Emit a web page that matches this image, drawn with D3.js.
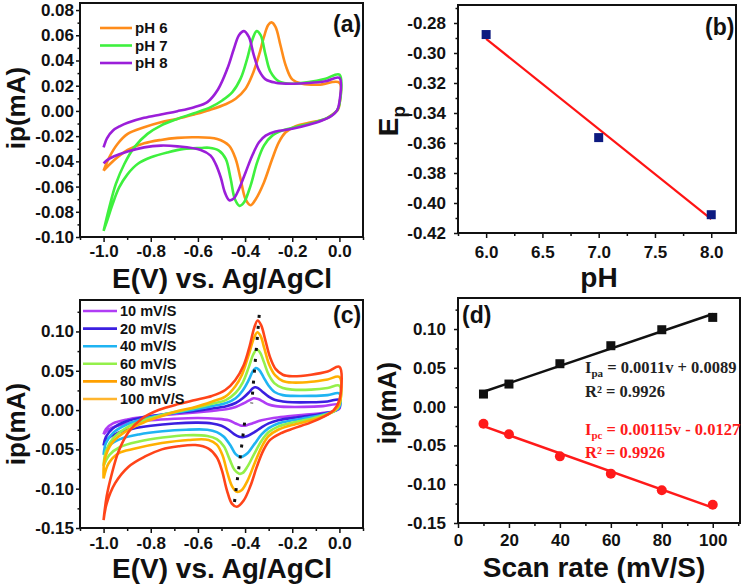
<!DOCTYPE html>
<html>
<head>
<meta charset="utf-8">
<script src="https://cdnjs.cloudflare.com/ajax/libs/d3/7.8.5/d3.min.js"></script>
<style>
  body { margin: 0; background: #fff; }
  svg text { font-family: "Liberation Sans", Arial, sans-serif; font-weight: bold; fill: #111; }
</style>
</head>
<body>
<svg id="chart" width="745" height="584"></svg>
<script>
// ---- panel (a): CV at different pH, [E (V), i (mA)] ----
var phLabels = ['pH 6', 'pH 7', 'pH 8'];
var cvPH6 = [[-1.0,-0.0474],[-0.976,-0.0368],[-0.941,-0.0262],[-0.898,-0.0182],[-0.828,-0.0129],[-0.757,-0.0089],
  [-0.687,-0.0063],[-0.616,-0.0028],[-0.55,0.0008],[-0.48,0.0055],[-0.44,0.0097],[-0.398,0.0176],[-0.37,0.0282],
  [-0.341,0.0442],[-0.32,0.0587],[-0.302,0.0681],[-0.288,0.0702],[-0.271,0.0667],[-0.25,0.0521],[-0.228,0.0362],
  [-0.2,0.025],[-0.158,0.0216],[-0.088,0.0208],[0.0,0.0224],[0.0,0.005],[-0.006,0.001],[-0.017,-0.001],
  [-0.059,-0.0063],[-0.13,-0.0094],[-0.186,-0.0121],[-0.228,-0.0169],[-0.257,-0.0249],[-0.285,-0.0381],
  [-0.32,-0.0567],[-0.355,-0.07],[-0.377,-0.0748],[-0.398,-0.07],[-0.419,-0.054],[-0.44,-0.0381],[-0.468,-0.0275],
  [-0.518,-0.0222],[-0.616,-0.0209],[-0.687,-0.0214],[-0.757,-0.023],[-0.828,-0.0257],[-0.898,-0.031],
  [-0.941,-0.0368],[-0.976,-0.0427],[-1.0,-0.0474]];
var cvPH7 = [[-1.0,-0.0952],[-0.976,-0.0767],[-0.948,-0.058],[-0.912,-0.0421],[-0.87,-0.0289],[-0.814,-0.0182],
  [-0.757,-0.0116],[-0.687,-0.0063],[-0.616,-0.0018],[-0.546,0.003],[-0.497,0.0083],[-0.454,0.0149],[-0.419,0.0256],
  [-0.391,0.0415],[-0.37,0.0561],[-0.351,0.0633],[-0.334,0.0601],[-0.313,0.0442],[-0.292,0.0309],[-0.257,0.0235],
  [-0.2,0.0216],[-0.13,0.0229],[-0.059,0.0256],[0.0,0.0288],[0.0,0.005],[-0.01,0.0004],[-0.045,-0.005],
  [-0.102,-0.0089],[-0.172,-0.0121],[-0.243,-0.0156],[-0.285,-0.0196],[-0.32,-0.0275],[-0.349,-0.0408],
  [-0.377,-0.0594],[-0.405,-0.0727],[-0.423,-0.0753],[-0.443,-0.07],[-0.461,-0.054],[-0.482,-0.0381],
  [-0.511,-0.0315],[-0.553,-0.0292],[-0.588,-0.0294],[-0.659,-0.0301],[-0.729,-0.0329],[-0.799,-0.0368],
  [-0.856,-0.0421],[-0.898,-0.0501],[-0.934,-0.0607],[-0.962,-0.074],[-0.983,-0.0859],[-1.0,-0.0952]];
var cvPH8 = [[-1.0,-0.029],[-0.985,-0.0215],[-0.96,-0.0155],[-0.93,-0.012],[-0.898,-0.0094],[-0.828,-0.0055],
  [-0.757,-0.0028],[-0.687,-0.0002],[-0.616,0.003],[-0.56,0.007],[-0.515,0.017],[-0.475,0.0336],[-0.447,0.0495],
  [-0.426,0.0601],[-0.405,0.0633],[-0.384,0.0587],[-0.363,0.0442],[-0.341,0.0322],[-0.313,0.025],[-0.271,0.0224],
  [-0.2,0.0216],[-0.13,0.0221],[-0.059,0.0235],[0.0,0.0262],[0.0,0.007],[-0.01,0.0004],[-0.031,-0.0036],
  [-0.074,-0.0076],[-0.13,-0.011],[-0.2,-0.0142],[-0.271,-0.0164],[-0.313,-0.0196],[-0.341,-0.0249],
  [-0.37,-0.0355],[-0.398,-0.0488],[-0.426,-0.062],[-0.448,-0.0695],[-0.467,-0.0708],[-0.485,-0.065],
  [-0.503,-0.0528],[-0.525,-0.042],[-0.546,-0.0355],[-0.588,-0.031],[-0.687,-0.0281],[-0.757,-0.0275],
  [-0.828,-0.0289],[-0.898,-0.0321],[-0.955,-0.036],[-0.985,-0.039],[-1.0,-0.0416]];

// ---- panel (b): peak potential vs pH ----
var phValues = [6, 7, 8];
var epValues = [-0.2877, -0.3564, -0.4078];

// ---- panel (c): CV at different scan rates ----
var scanLabels = ['10 mV/S', '20 mV/S', '40 mV/S', '60 mV/S', '80 mV/S', '100 mV/S'];
var cv10 = [[-1,-0.031],[-0.99,-0.024],[-0.96,-0.017],[-0.9,-0.012],[-0.83,-0.009],[-0.76,-0.007],[-0.69,-0.005],
  [-0.61,-0.003],[-0.54,-0.001],[-0.48,0.001],[-0.44,0.004],[-0.41,0.008],[-0.385,0.012],[-0.364,0.015],
  [-0.345,0.014],[-0.325,0.011],[-0.3,0.007],[-0.27,0.005],[-0.22,0.004],[-0.15,0.004],[-0.07,0.005],[0,0.007],
  [0,0.002],[-0.03,-0.002],[-0.08,-0.004],[-0.15,-0.006],[-0.22,-0.008],[-0.28,-0.01],[-0.33,-0.013],
  [-0.37,-0.017],[-0.39,-0.019],[-0.405,-0.02],[-0.42,-0.0195],[-0.44,-0.017],[-0.47,-0.013],[-0.52,-0.011],
  [-0.6,-0.01],[-0.7,-0.011],[-0.8,-0.013],[-0.88,-0.016],[-0.94,-0.02],[-0.98,-0.025],[-1,-0.031]];
var cv20 = [[-1,-0.045],[-0.99,-0.034],[-0.96,-0.023],[-0.9,-0.014],[-0.83,-0.009],[-0.76,-0.006],[-0.69,-0.0035],
  [-0.61,-0.001],[-0.54,0.002],[-0.48,0.005],[-0.44,0.009],[-0.41,0.015],[-0.385,0.022],[-0.37,0.027],
  [-0.358,0.029],[-0.345,0.028],[-0.325,0.023],[-0.3,0.017],[-0.275,0.013],[-0.24,0.011],[-0.2,0.01],
  [-0.12,0.01],[-0.05,0.011],[0,0.013],[0,0.003],[-0.02,-0.001],[-0.06,-0.004],[-0.12,-0.007],[-0.2,-0.01],
  [-0.26,-0.013],[-0.3,-0.017],[-0.33,-0.022],[-0.36,-0.028],[-0.39,-0.033],[-0.41,-0.0345],[-0.425,-0.034],
  [-0.445,-0.031],[-0.47,-0.025],[-0.5,-0.02],[-0.54,-0.017],[-0.6,-0.016],[-0.7,-0.017],[-0.8,-0.02],
  [-0.88,-0.024],[-0.94,-0.029],[-0.98,-0.036],[-1,-0.045]];
var cv40 = [[-1,-0.057],[-0.99,-0.042],[-0.96,-0.029],[-0.9,-0.018],[-0.83,-0.011],[-0.76,-0.0065],[-0.69,-0.003],
  [-0.61,0.001],[-0.54,0.005],[-0.48,0.009],[-0.44,0.015],[-0.41,0.025],[-0.385,0.038],[-0.368,0.049],
  [-0.354,0.0535],[-0.34,0.051],[-0.322,0.042],[-0.3,0.031],[-0.275,0.023],[-0.24,0.019],[-0.2,0.018],
  [-0.12,0.018],[-0.05,0.019],[0,0.021],[0,0.004],[-0.02,-0.001],[-0.06,-0.005],[-0.12,-0.009],[-0.2,-0.013],
  [-0.26,-0.017],[-0.3,-0.023],[-0.33,-0.031],[-0.36,-0.043],[-0.39,-0.055],[-0.41,-0.059],[-0.422,-0.0595],
  [-0.44,-0.056],[-0.46,-0.046],[-0.49,-0.034],[-0.52,-0.028],[-0.56,-0.025],[-0.65,-0.025],[-0.75,-0.027],
  [-0.85,-0.031],[-0.93,-0.037],[-0.975,-0.045],[-1,-0.057]];
var cv60 = [[-1,-0.071],[-0.99,-0.052],[-0.96,-0.036],[-0.9,-0.022],[-0.83,-0.013],[-0.76,-0.007],[-0.69,-0.002],
  [-0.61,0.003],[-0.54,0.008],[-0.48,0.013],[-0.44,0.022],[-0.41,0.035],[-0.385,0.054],[-0.365,0.071],
  [-0.35,0.077],[-0.336,0.073],[-0.32,0.061],[-0.3,0.045],[-0.275,0.034],[-0.24,0.028],[-0.2,0.026],
  [-0.12,0.026],[-0.05,0.028],[0,0.031],[0,0.006],[-0.02,-0.001],[-0.06,-0.006],[-0.12,-0.011],[-0.2,-0.016],
  [-0.26,-0.021],[-0.3,-0.028],[-0.33,-0.039],[-0.36,-0.055],[-0.39,-0.072],[-0.41,-0.08],[-0.425,-0.081],
  [-0.445,-0.076],[-0.465,-0.063],[-0.49,-0.046],[-0.52,-0.037],[-0.56,-0.033],[-0.65,-0.032],[-0.75,-0.035],
  [-0.85,-0.04],[-0.93,-0.047],[-0.975,-0.057],[-1,-0.071]];
var cv80 = [[-1,-0.087],[-0.996,-0.064],[-0.965,-0.042],[-0.894,-0.025],[-0.824,-0.015],[-0.753,-0.0076],
  [-0.682,-0.001],[-0.611,0.004],[-0.541,0.0107],[-0.484,0.017],[-0.442,0.03],[-0.413,0.045],[-0.385,0.07],
  [-0.362,0.092],[-0.348,0.099],[-0.334,0.094],[-0.318,0.078],[-0.298,0.058],[-0.272,0.044],[-0.24,0.037],
  [-0.2,0.035],[-0.12,0.036],[-0.05,0.039],[0,0.042],[0,0.008],[-0.02,0.0],[-0.06,-0.007],[-0.12,-0.013],
  [-0.2,-0.019],[-0.26,-0.025],[-0.3,-0.033],[-0.33,-0.047],[-0.36,-0.068],[-0.39,-0.09],[-0.415,-0.102],
  [-0.435,-0.104],[-0.455,-0.097],[-0.475,-0.08],[-0.495,-0.058],[-0.52,-0.044],[-0.555,-0.038],[-0.64,-0.038],
  [-0.753,-0.042],[-0.866,-0.049],[-0.937,-0.055],[-0.979,-0.068],[-1,-0.087]];
var cv100 = [[-1,-0.14],[-0.987,-0.11],[-0.965,-0.081],[-0.937,-0.053],[-0.894,-0.028],[-0.838,-0.011],
  [-0.767,0.0],[-0.682,0.0077],[-0.611,0.0128],[-0.541,0.018],[-0.484,0.0255],[-0.442,0.038],[-0.406,0.057],
  [-0.38,0.082],[-0.362,0.104],[-0.347,0.114],[-0.332,0.108],[-0.315,0.09],[-0.295,0.068],[-0.27,0.052],
  [-0.24,0.045],[-0.2,0.043],[-0.12,0.045],[-0.05,0.049],[0,0.055],[0,0.013],[-0.024,0.0],[-0.066,-0.0084],
  [-0.123,-0.016],[-0.194,-0.0233],[-0.25,-0.0297],[-0.294,-0.038],[-0.322,-0.051],[-0.35,-0.072],
  [-0.378,-0.097],[-0.406,-0.115],[-0.435,-0.123],[-0.456,-0.119],[-0.477,-0.102],[-0.498,-0.077],
  [-0.52,-0.06],[-0.555,-0.049],[-0.611,-0.0445],[-0.682,-0.046],[-0.753,-0.05],[-0.824,-0.059],
  [-0.894,-0.072],[-0.951,-0.093],[-0.987,-0.119],[-1,-0.14]];
// dotted guides through the anodic and cathodic peaks
var anodicGuide = [[-0.340, 0.121], [-0.372, 0.0086]];
var cathodicGuide = [[-0.402, -0.016], [-0.449, -0.1266]];

// ---- panel (d): peak current vs scan rate ----
var scanRates = [10, 20, 40, 60, 80, 100];
var ipaValues = [0.0162, 0.0291, 0.0553, 0.0785, 0.0991, 0.115];
var ipcValues = [-0.022, -0.0357, -0.0641, -0.0864, -0.1079, -0.1264];

// ---- tick values ----
var cvXTicks = [-1.0, -0.8, -0.6, -0.4, -0.2, 0.0];
var aYTicks = [-0.10, -0.08, -0.06, -0.04, -0.02, 0.00, 0.02, 0.04, 0.06, 0.08];
var bXTicks = [6.0, 6.5, 7.0, 7.5, 8.0];
var bYTicks = [-0.42, -0.40, -0.38, -0.36, -0.34, -0.32, -0.30, -0.28];
var cdYTicks = [-0.15, -0.10, -0.05, 0.00, 0.05, 0.10];
var dXTicks = [0, 20, 40, 60, 80, 100];

var phColors = ['#ff8c1a', '#3ef03e', '#9b1ed9'];
var scanColors = ['#b03df5', '#3b1fe0', '#1fb4f2', '#94f04a', '#ffb000', '#ff4419'];
var scanLegendColors = ['#b03df5', '#3b1fe0', '#1fb4f2', '#94f04a', '#ffa000', '#ffb52e'];

var svg = d3.select('#chart');

function fmt(digits) {
    var f = d3.format('.' + digits + 'f');
    return function(d) { return f(d).replace('\u2212', '-'); };
}

// minor ticks halfway between major ones, plus one beyond each end if it fits
function minorTicks(major, domain) {
    var step = major[1] - major[0];
    var lo = Math.min(domain[0], domain[1]), hi = Math.max(domain[0], domain[1]);
    var out = [];
    for (var k = -1; k < major.length; k++) {
        var v = major[0] + (k + 0.5) * step;
        if (v >= lo - 1e-9 && v <= hi + 1e-9) out.push(v);
    }
    return out;
}

// frame + axes for one panel
function panel(o) {
    var x = d3.scaleLinear().domain(o.xDomain).range([o.left, o.right]);
    var y = d3.scaleLinear().domain(o.yDomain).range([o.bottom, o.top]);
    var g = svg.append('g');

    g.append('g').attr('transform', 'translate(0,' + o.bottom + ')')
        .call(d3.axisBottom(x).tickValues(o.xTicks).tickFormat(o.xFmt)
            .tickSize(5).tickPadding(o.xPad).tickSizeOuter(0));
    g.append('g').attr('transform', 'translate(0,' + o.bottom + ')')
        .call(d3.axisBottom(x).tickValues(minorTicks(o.xTicks, o.xDomain)).tickFormat('')
            .tickSize(3).tickSizeOuter(0));
    g.append('g').attr('transform', 'translate(' + o.left + ',0)')
        .call(d3.axisLeft(y).tickValues(o.yTicks).tickFormat(o.yFmt)
            .tickSize(4).tickPadding(o.yPad).tickSizeOuter(0));
    g.append('g').attr('transform', 'translate(' + o.left + ',0)')
        .call(d3.axisLeft(y).tickValues(minorTicks(o.yTicks, o.yDomain)).tickFormat('')
            .tickSize(2.5).tickSizeOuter(0));

    g.selectAll('.domain').remove();
    g.selectAll('.tick line').attr('stroke', '#111').attr('stroke-width', 1.5);
    g.selectAll('.tick text').style('font-size', '17px');

    g.append('rect')
        .attr('x', o.left).attr('y', o.top)
        .attr('width', o.right - o.left).attr('height', o.bottom - o.top)
        .attr('fill', 'none').attr('stroke', '#111').attr('stroke-width', 2);

    return { x: x, y: y, g: g };
}

function drawCurves(p, curves, colors) {
    var line = d3.line()
        .x(function(d) { return p.x(d[0]); })
        .y(function(d) { return p.y(d[1]); })
        .curve(d3.curveCatmullRom.alpha(0.5));
    curves.forEach(function(c, k) {
        p.g.append('path').datum(c)
            .attr('d', line)
            .attr('fill', 'none')
            .attr('stroke', colors[k])
            .attr('stroke-width', 2.6)
            .attr('stroke-linejoin', 'round');
    });
}

function legend(p, labels, colors, x0, y0, dy, len, fontSize) {
    labels.forEach(function(lab, k) {
        var yy = y0 + k * dy;
        p.g.append('line')
            .attr('x1', x0).attr('x2', x0 + len)
            .attr('y1', yy).attr('y2', yy)
            .attr('stroke', colors[k]).attr('stroke-width', 2.6);
        p.g.append('text')
            .attr('x', x0 + len + 3).attr('y', yy)
            .attr('dy', '0.35em')
            .style('font-size', fontSize + 'px')
            .text(lab);
    });
}

function linFit(xs, ys) {
    var mx = d3.mean(xs), my = d3.mean(ys), sxy = 0, sxx = 0;
    xs.forEach(function(v, k) { sxy += (v - mx) * (ys[k] - my); sxx += (v - mx) * (v - mx); });
    var b = sxy / sxx;
    return function(v) { return my + b * (v - mx); };
}

function yLabel(cx, cy, size, txt) {
    svg.append('text')
        .attr('transform', 'translate(' + cx + ',' + cy + ') rotate(-90)')
        .attr('text-anchor', 'middle')
        .style('font-size', size + 'px')
        .text(txt);
}
function xLabel(cx, by, size, txt) {
    svg.append('text')
        .attr('x', cx).attr('y', by)
        .attr('text-anchor', 'middle')
        .style('font-size', size + 'px')
        .text(txt);
}
function tag(x0, y0, txt) {
    svg.append('text').attr('x', x0).attr('y', y0)
        .style('font-size', '23px').text(txt);
}

// ================= (a) =================
var pa = panel({ left: 80, right: 363, top: 3, bottom: 237,
    xDomain: [-1.1, 0.1], yDomain: [-0.1, 0.0856],
    xTicks: cvXTicks, yTicks: aYTicks, xFmt: fmt(1), yFmt: fmt(2), xPad: 3, yPad: 2 });
drawCurves(pa, [cvPH6, cvPH7, cvPH8], phColors);
legend(pa, phLabels, phColors, 100, 28, 17.5, 32, 15);
yLabel(25, 108, 26, 'ip(mA)');
xLabel(222, 288, 28, 'E(V) vs. Ag/AgCl');
tag(333, 32, '(a)');

// ================= (b) =================
var pb = panel({ left: 458, right: 736, top: 5, bottom: 233,
    xDomain: [5.75, 8.22], yDomain: [-0.42, -0.268],
    xTicks: bXTicks, yTicks: bYTicks, xFmt: fmt(1), yFmt: fmt(2), xPad: 8, yPad: 8 });
var fitB = linFit(phValues, epValues);
pb.g.append('line')
    .attr('x1', pb.x(phValues[0])).attr('y1', pb.y(fitB(phValues[0])))
    .attr('x2', pb.x(phValues[phValues.length - 1])).attr('y2', pb.y(fitB(phValues[phValues.length - 1])))
    .attr('stroke', '#ff1414').attr('stroke-width', 2.2);
pb.g.selectAll('rect.pt').data(phValues).enter().append('rect')
    .attr('class', 'pt')
    .attr('x', function(d) { return pb.x(d) - 4.5; })
    .attr('y', function(d, k) { return pb.y(epValues[k]) - 4.5; })
    .attr('width', 9).attr('height', 9)
    .attr('fill', '#0d1a80');
var ep = svg.append('text')
    .attr('transform', 'translate(398,121) rotate(-90)')
    .attr('text-anchor', 'middle')
    .style('font-size', '28px');
ep.append('tspan').text('E');
ep.append('tspan').attr('dy', 7).style('font-size', '19px').text('p');
xLabel(599, 287, 28, 'pH');
tag(705, 35, '(b)');

// ================= (c) =================
var pc = panel({ left: 80, right: 363, top: 300, bottom: 528,
    xDomain: [-1.1, 0.1], yDomain: [-0.15, 0.14],
    xTicks: cvXTicks, yTicks: cdYTicks, xFmt: fmt(1), yFmt: fmt(2), xPad: 4, yPad: 2 });
drawCurves(pc, [cv10, cv20, cv40, cv60, cv80, cv100], scanColors);
[anodicGuide, cathodicGuide].forEach(function(gd) {
    pc.g.append('line')
        .attr('x1', pc.x(gd[0][0])).attr('y1', pc.y(gd[0][1]))
        .attr('x2', pc.x(gd[1][0])).attr('y2', pc.y(gd[1][1]))
        .attr('stroke', '#111').attr('stroke-width', 3)
        .attr('stroke-dasharray', '3,8');
});
legend(pc, scanLabels, scanLegendColors, 83, 311, 17.6, 34, 14.5);
yLabel(25, 424, 26, 'ip(mA)');
xLabel(222, 578, 28, 'E(V) vs. Ag/AgCl');
tag(333, 323, '(c)');

// ================= (d) =================
var pd = panel({ left: 458, right: 740, top: 298, bottom: 523,
    xDomain: [0, 110.7], yDomain: [-0.15, 0.14],
    xTicks: dXTicks, yTicks: cdYTicks, xFmt: fmt(0), yFmt: fmt(2), xPad: 6, yPad: 8 });
var fitA = linFit(scanRates, ipaValues), fitC = linFit(scanRates, ipcValues);
var x0 = scanRates[0], x1 = scanRates[scanRates.length - 1];
pd.g.append('line')
    .attr('x1', pd.x(x0)).attr('y1', pd.y(fitA(x0)))
    .attr('x2', pd.x(x1)).attr('y2', pd.y(fitA(x1)))
    .attr('stroke', '#111').attr('stroke-width', 2.5);
pd.g.append('line')
    .attr('x1', pd.x(x0)).attr('y1', pd.y(fitC(x0)))
    .attr('x2', pd.x(x1)).attr('y2', pd.y(fitC(x1)))
    .attr('stroke', '#ff1a1a').attr('stroke-width', 2.5);
pd.g.selectAll('rect.pa').data(scanRates).enter().append('rect')
    .attr('class', 'pa')
    .attr('x', function(d) { return pd.x(d) - 4.5; })
    .attr('y', function(d, k) { return pd.y(ipaValues[k]) - 4.5; })
    .attr('width', 9).attr('height', 9).attr('fill', '#111');
pd.g.selectAll('circle.pc').data(scanRates).enter().append('circle')
    .attr('class', 'pc')
    .attr('cx', function(d) { return pd.x(d); })
    .attr('cy', function(d, k) { return pd.y(ipcValues[k]); })
    .attr('r', 5).attr('fill', '#ff1a1a');

function eqText(xx, yy, color, sub, rest) {
    var t = svg.append('text').attr('x', xx).attr('y', yy)
        .style('font-family', '"Liberation Serif", "Times New Roman", serif')
        .style('font-size', '16.5px').style('fill', color);
    t.append('tspan').text('I');
    t.append('tspan').attr('dy', 4).style('font-size', '11px').text(sub);
    t.append('tspan').attr('dy', -4).text(rest);
}
function r2Text(xx, yy, color, txt) {
    svg.append('text').attr('x', xx).attr('y', yy)
        .style('font-family', '"Liberation Serif", "Times New Roman", serif')
        .style('font-size', '16.5px').style('fill', color)
        .text(txt);
}
eqText(585, 373, '#222', 'pa', ' = 0.0011v + 0.0089');
r2Text(585, 397, '#222', 'R\u00b2 = 0.9926');
eqText(585, 435, '#ff1a1a', 'pc', ' = 0.00115v - 0.0127');
r2Text(585, 458, '#ff1a1a', 'R\u00b2 = 0.9926');
yLabel(396, 403, 26, 'ip(mA)');
xLabel(594, 577, 28, 'Scan rate (mV/S)');
tag(462, 323, '(d)');
</script>
</body>
</html>
